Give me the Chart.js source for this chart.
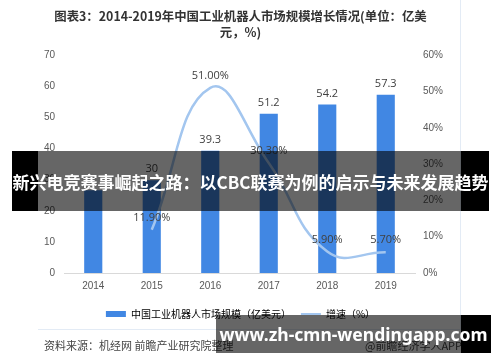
<!DOCTYPE html>
<html>
<head>
<meta charset="utf-8">
<script src="https://cdn.jsdelivr.net/npm/chart.js@4"></script>
<style>
  body { margin: 0; background: #fff; font-family: "Noto Sans CJK SC", "Noto Sans", sans-serif; }
  #wrap { position: relative; width: 500px; height: 362px; overflow: hidden; }
  canvas { position: absolute; left: 0; top: 0; }
  .frame-r { position: absolute; left: 460px; top: 0; width: 1px; height: 330px; background: #e3ebf5; }
  .frame-b { position: absolute; left: 38px; top: 329px; width: 422px; height: 1px; background: #e3ebf5; }
  .source { position: absolute; left: 44px; top: 337px; font-size: 11px; color: #444; white-space: nowrap; }
  .app { position: absolute; left: 365px; top: 337px; font-size: 11px; color: #444; white-space: nowrap; }
  .banner { position: absolute; overflow: hidden; }
  .banner .shade { position: absolute; top: 0; height: 100%; background: rgba(0,0,0,0.6); }
  .banner .blk { position: absolute; top: 0; height: 100%; background: #000; }
  .banner .txt { position: absolute; left: 0; right: 0; top: 0; bottom: 0; color: #fff; font-weight: bold;
                 display: flex; align-items: center; justify-content: center; white-space: nowrap; }
</style>
</head>
<body>
<div id="wrap">
  <canvas id="chart" width="500" height="362"></canvas>
  <div class="frame-r"></div>
  <div class="frame-b"></div>
  <div class="source">资料来源：机经网 前瞻产业研究院整理</div>
  <div class="app">@前瞻经济学人APP</div>
  <div class="banner" style="left:12px; top:151px; width:477px; height:60px;">
    <div class="blk" style="left:0; width:26px;"></div>
    <div class="shade" style="left:26px; width:423px;"></div>
    <div class="blk" style="left:449px; width:28px;"></div>
    <div class="txt" style="font-size:17px;">新兴电竞赛事崛起之路：以CBC联赛为例的启示与未来发展趋势</div>
  </div>
  <div class="banner" style="left:216px; top:315px; width:275px; height:38px;">
    <div class="shade" style="left:0; width:245px;"></div>
    <div class="blk" style="left:245px; width:30px;"></div>
    <div class="txt" style="font-size:17.5px; font-family:'Noto Sans', sans-serif;">www.zh-cmn-wendingapp.com</div>
  </div>
</div>
<script>
// data
const years = ["2014", "2015", "2016", "2017", "2018", "2019"];
const marketSize = [26.6, 29.8, 39.3, 51.2, 54.2, 57.3];
const sizeLabels = ["", "30", "39.3", "51.2", "54.2", "57.3"];
const growthRate = [null, 11.9, 51.0, 30.3, 5.9, 5.7];
const growthLabels = ["", "11.90%", "51.00%", "30.30%", "5.90%", "5.70%"];
const leftTicks = [0, 10, 20, 30, 40, 50, 60, 70];
const rightTicks = [0, 10, 20, 30, 40, 50, 60];

const titleLines = ["图表3：2014-2019年中国工业机器人市场规模增长情况(单位：亿美", "元，%)"];

// draws the value labels above bars and line points
const valueLabels = {
  id: "valueLabels",
  afterDatasetsDraw(chart) {
    const ctx = chart.ctx;
    ctx.save();
    ctx.font = "11px 'Open Sans', 'Noto Sans', sans-serif";
    ctx.fillStyle = "#404040";
    ctx.textAlign = "center";
    ctx.textBaseline = "middle";
    const barMeta = chart.getDatasetMeta(0);
    barMeta.data.forEach((el, i) => {
      if (sizeLabels[i]) ctx.fillText(sizeLabels[i], el.x, el.y - 11);
    });
    const lineMeta = chart.getDatasetMeta(1);
    lineMeta.data.forEach((el, i) => {
      if (growthLabels[i]) ctx.fillText(growthLabels[i], el.x, el.y - 12);
    });
    ctx.restore();
  },
};

new Chart(document.getElementById("chart"), {
  type: "bar",
  data: {
    labels: years,
    datasets: [
      {
        label: "中国工业机器人市场规模（亿美元）",
        data: marketSize,
        backgroundColor: "#4187e3",
        yAxisID: "y",
        order: 1,
        categoryPercentage: 1,
        barPercentage: 0.31,
      },
      {
        type: "line",
        label: "增速（%）",
        data: growthRate,
        borderColor: "#a3c6ef",
        backgroundColor: "#a3c6ef",
        borderWidth: 2.5,
        pointRadius: 0,
        tension: 0.45,
        yAxisID: "y1",
        order: 0,
      },
    ],
  },
  options: {
    responsive: false,
    animation: false,
    layout: { padding: { left: 20, right: 39, top: 0, bottom: 33 } },
    plugins: {
      title: {
        display: true,
        text: titleLines,
        color: "#333",
        font: { size: 12.4, weight: "bold", family: "'Noto Sans CJK SC', sans-serif", lineHeight: 1.3 },
        padding: { top: 8, bottom: 15 },
      },
      legend: {
        position: "bottom",
        labels: {
          usePointStyle: true,
          pointStyleWidth: 20,
          boxHeight: 6,
          padding: 10,
          color: "#595959",
          font: { size: 10, family: "'Noto Sans CJK SC', sans-serif" },
          sort: (a, b) => a.datasetIndex - b.datasetIndex,
          generateLabels: (chart) =>
            chart.data.datasets.map((ds, i) => ({
              text: ds.label,
              fillStyle: ds.backgroundColor,
              strokeStyle: ds.type === "line" ? ds.borderColor : ds.backgroundColor,
              lineWidth: ds.type === "line" ? 2 : 0,
              pointStyle: ds.type === "line" ? "line" : "rect",
              datasetIndex: i,
              hidden: false,
            })),
        },
      },
      tooltip: { enabled: false },
    },
    scales: {
      x: {
        grid: { display: false, drawTicks: false },
        border: { color: "#d9d9d9" },
        ticks: { color: "#595959", font: { size: 10 }, padding: 7 },
      },
      y: {
        position: "left",
        min: 0,
        max: 70,
        afterBuildTicks: (s) => { s.ticks = leftTicks.map((v) => ({ value: v })); },
        afterFit: (s) => { s.width = 44; },
        grid: { display: false, drawTicks: false },
        border: { display: false },
        ticks: { color: "#595959", font: { size: 10 }, padding: 9 },
      },
      y1: {
        position: "right",
        min: 0,
        max: 60,
        afterBuildTicks: (s) => { s.ticks = rightTicks.map((v) => ({ value: v })); },
        afterFit: (s) => { s.width = 46; },
        grid: { display: false, drawTicks: false },
        border: { display: false },
        ticks: { color: "#595959", font: { size: 10 }, padding: 8, callback: (v) => v + "%" },
      },
    },
  },
  plugins: [valueLabels],
});
</script>
</body>
</html>
